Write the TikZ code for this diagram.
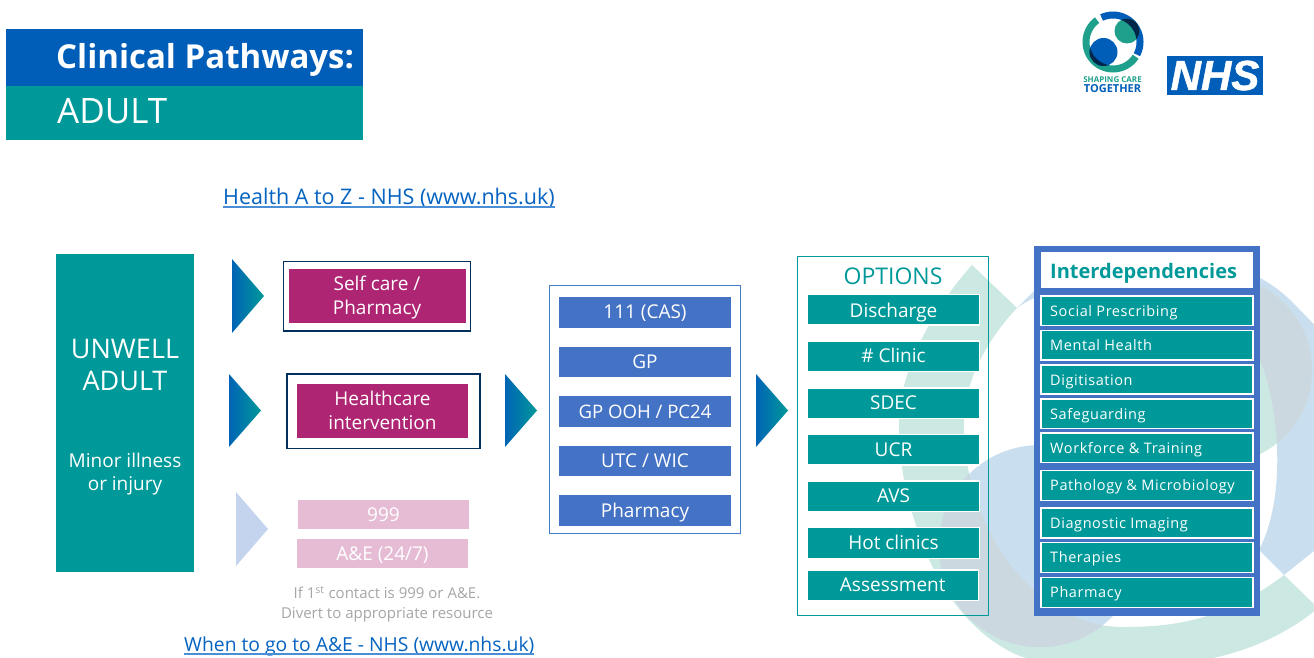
\documentclass[tikz,border=0pt]{standalone}
\usepackage{fontspec}
\setmainfont{Open Sans}
\newfontfamily\spaced[LetterSpace=4]{Open Sans}
\newfontfamily\nhsfont[BoldItalicFeatures={FakeBold=1.2}]{Liberation Sans}
\definecolor{nteal}{HTML}{009999}
\definecolor{nblue}{HTML}{005EB8}
\definecolor{lteal}{HTML}{1FA08C}
\definecolor{iblue}{HTML}{4472C4}
\definecolor{mag}{HTML}{AE2573}
\definecolor{lmag}{HTML}{E6BCD5}
\definecolor{link}{HTML}{0563C1}
\definecolor{linkline}{HTML}{4A8FD6}
\definecolor{ltri}{HTML}{C5D4EE}
\definecolor{bgteal}{HTML}{CCE8E3}
\definecolor{bgblue}{HTML}{C9DEEE}
\definecolor{bggrey}{HTML}{CBD8DF}
\tikzset{
  txt/.style={text=white,inner sep=0pt,align=center},
  opt/.style={fill=nteal,draw=white,line width=1.2pt},
  blueitem/.style={fill=iblue},
  magbox/.style={fill=mag},
  pinkbox/.style={fill=lmag},
  frame/.style={draw=#1,line width=1.3pt,fill=white},
  lab19/.style={txt,font=\fontsize{19}{24}\selectfont},
  dep/.style={txt,anchor=base west,font=\spaced\fontsize{14.5}{17}\selectfont},
  linktxt/.style={inner sep=0pt,anchor=base west,text=link},
  note/.style={inner sep=0pt,text=black!35,align=center,font=\fontsize{15}{20}\selectfont},
}
\newcommand{\tealpath}{(972,265) -- (1017,308) .. controls (985,342) and (962,385) .. (964,430) .. controls (966,530) and (1035,627) .. (1123,627) .. controls (1175,627) and (1225,620) .. (1284,575) -- (1318,608) .. controls (1290,632) and (1245,655) .. (1190,662) .. controls (1120,672) and (1060,670) .. (1020,656) .. controls (980,640) and (945,600) .. (925,550) .. controls (905,500) and (892,440) .. (903,390) .. controls (915,340) and (945,295) .. (972,265) -- cycle}
\newcommand{\bluepath}{(1017,308) -- (1045,280) .. controls (1120,230) and (1240,250) .. (1290,300) .. controls (1310,320) and (1325,335) .. (1335,350) -- (1340,530) -- (1284,575) -- (1259,550) .. controls (1285,500) and (1280,420) .. (1264,370) .. controls (1240,310) and (1180,285) .. (1120,285) .. controls (1080,285) and (1040,290) .. (1017,308) -- cycle}
\newcommand{\logoteal}{plot[smooth,domain=33:234,samples=40] ({1113+27*cos(\x)},{42+27*sin(\x)})}
\newcommand{\logoblue}{plot[smooth,domain=245:388,samples=40] ({1113+27*cos(\x)},{42+27*sin(\x)})}
\begin{document}
\begin{tikzpicture}[x=1pt,y=-1pt]
\useasboundingbox (0,0) rectangle (1314,658);
\clip (0,0) rectangle (1314,658);
\fill[white] (0,0) rectangle (1314,658);
% watermark
\fill[bgteal] \tealpath;
\fill[bgblue] \bluepath;
\fill[bgteal] (1218,370) circle[radius=94pt];
\begin{scope}\clip \bluepath; \fill[bggrey] (1218,370) circle[radius=94pt];\end{scope}
\fill[bgblue] (1040,546) circle[radius=101pt];
\begin{scope}\clip \tealpath; \fill[bggrey] (1040,546) circle[radius=101pt];\end{scope}
% title
\path[fill=nblue] (6,29) rectangle (363,86);
\path[fill=nteal] (6,86) rectangle (363,140);
\node[txt,anchor=base west,font=\bfseries\fontsize{33}{36}\selectfont] (title) at (56,69) {Clinical Pathways:};
\node[txt,anchor=base west,font=\fontsize{35}{38}\selectfont] (adult) at (57,124) {ADULT};
% logo
\draw[line width=7pt,color=lteal] \logoteal;
\draw[line width=7pt,color=nblue] \logoblue;
\fill[color=lteal] (1127,31) circle[radius=12.5pt];
\fill[nblue] (1103.5,52) circle[radius=14pt];
\begin{scope}\clip (1127,31) circle[radius=12.5pt]; \draw[line width=7pt,color=black!60!nblue] \logoblue;\end{scope}
\begin{scope}\clip (1103.5,52) circle[radius=14pt]; \draw[line width=7pt,color=black!60!nblue] \logoteal;\end{scope}
\node[inner sep=0pt,anchor=base,text=lteal,font=\bfseries\fontsize{8}{9}\selectfont] (shaping) at (1112.5,83) {SHAPING CARE};
\node[inner sep=0pt,anchor=base,text=nblue,font=\bfseries\fontsize{11}{12}\selectfont] (together) at (1112.5,93) {TOGETHER};
\path[fill=nblue] (1167,56) rectangle node[txt,font=\nhsfont\bfseries\itshape\fontsize{42}{42}\selectfont] (nhs) {NHS} (1263,95);
% links
\node[linktxt,font=\fontsize{21.5}{26}\selectfont] (azlink) at (223,204) {Health A to Z - NHS (www.nhs.uk)};
\draw[linkline,line width=1.2pt] (azlink.base west)++(0,3) -- ++(332,0);
\node[linktxt,font=\fontsize{19.3}{26}\selectfont] (aelink) at (184,651) {When to go to A\&E - NHS (www.nhs.uk)};
\draw[linkline,line width=1.2pt] (aelink.base west)++(0,3) -- ++(350,0);
% unwell
\path[fill=nteal] (56,254) rectangle (194,572);
\node[txt,font=\fontsize{27}{32}\selectfont] (unwell) at (125,365) {UNWELL\\ADULT};
\node[txt,font=\fontsize{19}{22.5}\selectfont] (minor) at (125,474) {Minor illness\\or injury};
% triangles
\shade[left color=nblue!90!nteal,right color=nteal] (232,259) -- (264,296) -- (232,333) -- cycle;
\shade[left color=nblue!90!nteal,right color=nteal] (229,374) -- (261,410.5) -- (229,447) -- cycle;
\shade[left color=nblue!90!nteal,right color=nteal] (505,374) -- (537,410.5) -- (505,447) -- cycle;
\shade[left color=nblue!90!nteal,right color=nteal] (756,374) -- (788,410.5) -- (756,447) -- cycle;
\fill[ltri] (236,492) -- (268,529) -- (236,566) -- cycle;
% magenta
\path[frame=black!50!nblue] (283.5,261.5) rectangle (470.5,331);
\path[magbox] (288.5,268.5) rectangle node[lab19,yshift=-2pt] (selfcare) {Self care /\\Pharmacy} (465.5,322.5);
\path[frame=black!50!nblue] (287,374) rectangle (480,448.5);
\path[magbox] (297,383.5) rectangle node[lab19] (health) {Healthcare\\intervention} (468,437.5);
% pink
\path[pinkbox] (298,500) rectangle node[lab19,text depth=0pt] (n999) {999} (469,529);
\path[pinkbox] (297,539) rectangle node[lab19,yshift=-1.5pt] (ae) {A\&E (24/7)} (468,568);
\node[note] (divert) at (387,604) {If 1\textsuperscript{st} contact is 999 or A\&E.\\Divert to appropriate resource};
% middle
\path[frame=iblue!70!nblue!90] (549.5,285.5) rectangle (740.5,533.5);
\path[blueitem] (559,297) rectangle node[lab19,yshift=-1pt] (m1) {111 (CAS)} (731,328);
\path[blueitem] (559,347) rectangle node[lab19] (m2) {GP} (731,377);
\path[blueitem] (559,396) rectangle node[lab19,font=\fontsize{18.6}{24}\selectfont] (m3) {GP OOH / PC24} (731,427);
\path[blueitem] (559,446) rectangle node[lab19] (m4) {UTC / WIC} (731,476);
\path[blueitem] (559,495) rectangle node[lab19,yshift=-2pt] (m5) {Pharmacy} (731,526);
% options
\draw[nteal,line width=0.9pt] (797,256) rectangle (988,615);
\node[inner sep=0pt,anchor=base,text=nteal,font=\fontsize{23}{26}\selectfont] (options) at (893,284.5) {OPTIONS};
\path[opt] (807.5,294.5) rectangle node[lab19,yshift=-2.5pt] (o1) {Discharge} (979.5,325);
\path[opt] (807.5,341) rectangle node[lab19,yshift=1pt] (o2) {\# Clinic} (979.5,371.5);
\path[opt] (807.5,388) rectangle node[lab19,yshift=1pt] (o3) {SDEC} (979.5,418.5);
\path[opt] (807.5,434.5) rectangle node[lab19] (o4) {UCR} (979.5,465);
\path[opt] (807.5,481) rectangle node[lab19,yshift=1pt] (o5) {AVS} (979.5,511.5);
\path[opt] (807.5,527.5) rectangle node[lab19,yshift=1pt] (o6) {Hot clinics} (979.5,558.5);
\path[opt] (807,570) rectangle node[lab19] (o7) {Assessment} (978.5,600.5);
% interdependencies
\path[fill=iblue] (1034,246) rectangle (1260,616);
\path[fill=white] (1041,252) rectangle (1253,288);
\node[inner sep=0pt,anchor=base west,text=nteal,font=\bfseries\fontsize{20}{24}\selectfont] (inter) at (1050,278) {Interdependencies};
\path[opt] (1041,296) rectangle (1253,325.5);
\node[dep] (d1) at (1050,316) {Social Prescribing};
\path[opt] (1041,330.5) rectangle (1253,360);
\node[dep] (d2) at (1050,350) {Mental Health};
\path[opt] (1041,365) rectangle (1253,394);
\node[dep] (d3) at (1050,385) {Digitisation};
\path[opt] (1041,399) rectangle (1253,428.5);
\node[dep] (d4) at (1050,419) {Safeguarding};
\path[opt] (1041,433) rectangle (1253,462.5);
\node[dep] (d5) at (1050,453) {Workforce \& Training};
\path[opt] (1041,470.5) rectangle (1253,500.5);
\node[dep] (d6) at (1050,490) {Pathology \& Microbiology};
\path[opt] (1041,508) rectangle (1253,538);
\node[dep] (d7) at (1050,528) {Diagnostic Imaging};
\path[opt] (1041,542.5) rectangle (1253,572.5);
\node[dep] (d8) at (1050,562) {Therapies};
\path[opt] (1041,577.5) rectangle (1253,607.5);
\node[dep] (d9) at (1050,597) {Pharmacy};
\end{tikzpicture}
\end{document}
